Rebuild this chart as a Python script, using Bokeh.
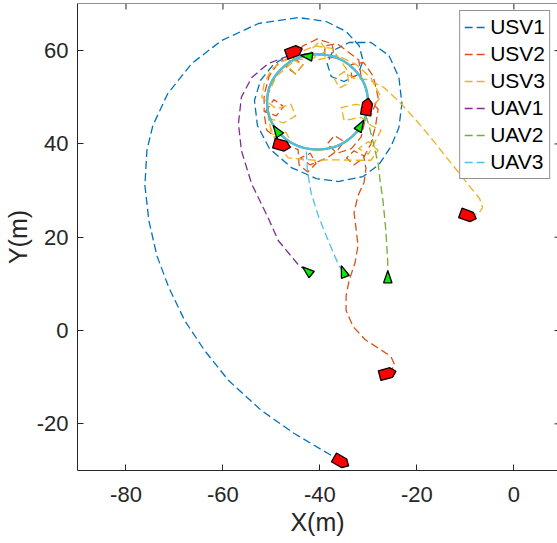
import math
from bokeh.plotting import figure
from bokeh.models import Range1d, FixedTicker, Legend, LegendItem, Span
from bokeh.embed import file_html
from bokeh.resources import INLINE

# ---------------- data ----------------
usv1_x = [-35.63, -38.30, -45.28, -52.06, -58.84, -63.78, -67.89, -71.17, -73.64, -75.28, -76.10,
          -75.69, -74.46, -71.38, -66.45, -60.28, -52.68, -44.46, -38.71, -34.60, -31.93, -31.11,
          -32.14, -35.01, -37.68, -38.50, -37.27, -33.98, -29.46, -25.77, -23.71, -23.09, -23.71,
          -25.35, -27.82, -31.11, -36.24, -40.76, -45.90, -50.42, -52.89, -53.50, -52.27, -49.60, -45.90]
usv1_y = [-28.08, -26.37, -22.08, -17.15, -10.72, -4.29, 2.14, 9.22, 16.08, 23.58, 31.08,
          38.59, 43.94, 50.80, 57.23, 62.17, 65.81, 67.10, 66.24, 64.09, 61.09, 57.88,
          54.88, 53.38, 54.45, 57.23, 60.02, 61.74, 61.74, 58.95, 54.23, 48.66, 43.52,
          39.44, 35.58, 33.01, 31.94, 32.58, 34.94, 39.01, 43.94, 49.30, 53.59, 57.02, 59.38]

usv2_x = [-25.97, -24.53, -25.35, -27.82, -30.70, -33.16, -34.60, -34.60, -33.98, -32.75, -32.14,
          -32.55, -32.96, -32.14, -30.90, -30.49,
          -31.0, -33.0, -34.5, -33.0, -31.0, -29.5,
          -28.5, -28.0, -30.0, -31.5, -29.5, -28.0, -29.0,
          -31.0, -33.5, -33.5, -31.5, -32.0, -34.5,
          -36.5, -39.0, -39.0, -37.0, -37.5, -40.5, -43.5,
          -45.5, -47.0, -45.0, -43.5, -45.5, -48.5, -50.5,
          -51.5, -51.5, -49.0, -47.5, -49.5, -51.5, -51.0,
          -47.5, -44.5, -44.3, -42.5, -40.8, -42.0, -44.0, -42.0, -38.5,
          -36.5, -35.0, -37.0, -38.5, -36.5, -33.5,
          -31.5, -30.8, -30.3]
usv2_y = [-9.22, -7.50, -5.57, -3.86, -1.93, 0.86, 4.29, 7.50, 10.72, 14.58, 18.22,
          21.86, 25.29, 28.94, 31.73, 34.73,
          37.5, 38.5, 37.0, 35.5, 37.0, 40.0,
          44.0, 47.5, 49.5, 47.5, 46.0, 50.0, 54.5,
          57.5, 57.0, 54.5, 54.5, 58.0, 60.0,
          61.5, 61.0, 58.5, 58.5, 61.5, 62.5, 61.0,
          59.0, 56.5, 55.0, 57.0, 58.5, 57.5, 54.5,
          50.5, 47.0, 46.0, 48.0, 49.5, 46.5, 43.0,
          40.0, 38.8, 35.5, 34.0, 35.8, 38.0, 37.0, 35.5, 37.0,
          38.5, 40.5, 41.8, 40.0, 38.0, 39.0,
          41.5, 44.5, 47.5]

usv3_x = [-9.33, -7.27, -6.45, -7.07, -8.92, -11.38, -14.05, -17.14, -20.63, -23.92, -26.79,
          -30.08, -32.96,
          -35.0, -37.0, -36.0, -34.0, -34.5, -37.5, -41.0,
          -44.5, -47.0, -45.0, -43.5, -46.5, -50.0,
          -51.5, -52.0,
          -49.0, -46.0, -45.0, -47.5, -50.5,
          -50.0, -47.0, -46.0, -48.5, -46.5,
          -41.0, -37.0,
          -33.0, -29.5, -28.0, -30.0, -32.0, -30.0,
          -27.4, -29.5, -31.5, -35.0, -35.6, -32.5, -29.5,
          -27.4, -29.5, -32.5, -36.5, -40.5,
          -42.0, -40.0, -38.5, -41.0, -45.0,
          -49.0, -51.0, -50.5, -49.5, -47.8]
usv3_y = [24.65, 25.08, 26.37, 28.30, 30.65, 33.87, 37.30, 41.37, 45.66, 49.30, 52.09,
          53.80, 54.02,
          55.5, 54.0, 52.0, 53.0, 56.0, 60.5, 61.0,
          59.5, 57.0, 55.0, 57.0, 58.5, 56.0,
          53.0, 50.0,
          47.5, 48.5, 46.0, 44.5, 45.5,
          42.0, 42.5, 40.5, 39.5, 37.0,
          36.5, 36.6,
          36.5, 36.5, 38.6, 40.5, 39.0, 37.8,
          42.9, 44.0, 45.7, 45.0, 47.8, 48.5, 47.8,
          50.0, 54.2, 57.0, 59.0, 58.0,
          60.0, 62.0, 60.0, 58.5, 58.0,
          54.5, 50.0, 44.5, 41.5, 39.7]

uav1_x = [-42.47, -44.3, -48.6, -50.7, -54.1, -56.2, -56.8, -56.2, -54.1, -50.7, -48.0, -45.5, -43.0]
uav1_y = [12.71, 13.9, 19.3, 24.2, 31.5, 38.6, 44.4, 50.0, 54.2, 57.2, 58.3, 59.2, 59.3]

uav2_x = [-26.03, -26.0, -26.4, -27.0, -27.6, -28.0, -29.1, -29.9, -30.5]
uav2_y = [11.30, 14.6, 21.4, 27.9, 32.2, 35.8, 40.7, 44.0, 46.0]

uav3_x = [-35.07, -36.1, -38.3, -40.2, -41.8, -42.6, -42.8]
uav3_y = [12.50, 13.9, 19.3, 24.2, 29.4, 34.3, 38.6]

# converged UAV orbit: centre and diameters
orbit_x = [-40.5]
orbit_y = [49.0]
orbit_w = [20.8]
orbit_h = [20.4]

# USV (boat) positions and headings (deg)
boat_x = [-45.3, -47.8, -30.3, -9.4, -26.0, -35.6]
boat_y = [59.8, 39.7, 48.0, 24.6, -9.2, -28.1]
boat_hdg = [20, -15, 80, -20, 15, -30]

# UAV (triangle) positions and headings (deg)
tri_x = [-42.6, -48.8, -31.7, -42.5, -35.1, -26.0]
tri_y = [58.8, 42.7, 43.8, 12.7, 12.5, 11.3]
tri_hdg = [172, 125, 60, 140, 110, 90]

names = ["USV1", "USV2", "USV3", "UAV1", "UAV2", "UAV3"]
colors = ["#0072BD", "#D95319", "#EDB120", "#7E2F8E", "#77AC30", "#4DBEEE"]
x_ticks = [-80, -60, -40, -20, 0]
y_ticks = [-20, 0, 20, 40, 60]

# ---------------- figure ----------------
W, H = 557, 543
ML, MB, MT = 75, 73, 3
X0, X1 = -90, 9.0
Y0, Y1 = -30, 70.1
p = figure(width=W, height=H, output_backend="svg", toolbar_location=None,
           x_range=Range1d(X0, X1), y_range=Range1d(Y0, Y1),
           min_border_left=ML, min_border_right=0, min_border_top=MT, min_border_bottom=MB,
           background_fill_color="white", border_fill_color="white")
p.xgrid.visible = False
p.ygrid.visible = False
p.outline_line_color = None

FONT = "Liberation Sans"
for ax, ticks, lab in ((p.xaxis[0], x_ticks, "X(m)"), (p.yaxis[0], y_ticks, "Y(m)")):
    ax.ticker = FixedTicker(ticks=ticks)
    ax.major_label_overrides = {t: str(t) for t in ticks}
    ax.axis_label = lab
    ax.axis_label_text_font = FONT
    ax.axis_label_text_font_size = "25px"
    ax.axis_label_text_font_style = "normal"
    ax.axis_label_text_color = "#262626"
    ax.major_label_text_font = FONT
    ax.major_label_text_font_size = "22px"
    ax.major_label_text_color = "#262626"
    ax.major_tick_in = 6
    ax.major_tick_out = 0
    ax.minor_tick_line_color = None
    ax.axis_line_color = "#262626"
    ax.major_tick_line_color = "#262626"
p.xaxis[0].major_label_standoff = 16
p.xaxis[0].axis_label_standoff = 3
p.yaxis[0].major_label_standoff = 9
p.yaxis[0].axis_label_standoff = 2

fw = W - ML
fh = H - MB - MT
sx = fw / (X1 - X0)
sy = fh / (Y1 - Y0)

# top box line and box ticks (top, and the right ones that reach the window edge)
p.add_layout(Span(location=Y1, dimension="width", line_color="#262626", line_width=1))
p.segment(x0=x_ticks, y0=[Y1] * len(x_ticks), x1=x_ticks, y1=[Y1 - 6 / sy] * len(x_ticks),
          line_color="#262626", line_width=1)
p.segment(x0=[X1 - 3 / sx] * len(y_ticks), y0=y_ticks, x1=[X1] * len(y_ticks), y1=y_ticks,
          line_color="#262626", line_width=1)

# ---------------- trajectories ----------------
paths = [(usv1_x, usv1_y), (usv2_x, usv2_y), (usv3_x, usv3_y),
         (uav1_x, uav1_y), (uav2_x, uav2_y), (uav3_x, uav3_y)]
renderers = []
for (xs, ys), c in zip(paths, colors):
    r = p.line(xs, ys, line_color=c, line_width=1.3, line_dash="8 4", line_join="round")
    renderers.append(r)

p.ellipse(x=orbit_x, y=orbit_y, width=orbit_w, height=orbit_h, fill_color=None,
          line_color=colors[4], line_width=2.4)
p.ellipse(x=orbit_x, y=orbit_y, width=orbit_w, height=orbit_h, fill_color=None,
          line_color=colors[5], line_width=2.0)

# ---------------- vehicle markers (shape template in screen px) ----------------
boat_tpl = [(-8.5, -5.0), (3.5, -5.0), (8.5, 0.0), (3.5, 5.0), (-8.5, 5.0)]
tri_tpl = [(7.0, 0.0), (-5.0, -4.2), (-5.0, 4.2)]


def place(xc, yc, hdg, tpl):
    a = math.radians(hdg)
    ca, sa = math.cos(a), math.sin(a)
    xs = [xc + (dx * ca - dy * sa) / sx for dx, dy in tpl]
    ys = [yc + (dx * sa + dy * ca) / sy for dx, dy in tpl]
    return xs, ys


bxs, bys = zip(*[place(x, y, h, boat_tpl) for x, y, h in zip(boat_x, boat_y, boat_hdg)])
txs, tys = zip(*[place(x, y, h, tri_tpl) for x, y, h in zip(tri_x, tri_y, tri_hdg)])
p.patches(list(bxs), list(bys), fill_color="#FF0000", line_color="black", line_width=1.3)
p.patches(list(txs), list(tys), fill_color="#00EE00", line_color="black", line_width=1.3)

# ---------------- legend ----------------
legend = Legend(items=[LegendItem(label=n, renderers=[r]) for n, r in zip(names, renderers)],
                location="top_right", margin=7, padding=4, spacing=3,
                glyph_width=21, glyph_height=24, label_height=24, label_standoff=5,
                label_text_font=FONT, label_text_font_size="21px", label_text_color="black",
                border_line_color="#262626", border_line_width=1,
                background_fill_color="white", background_fill_alpha=1)
p.add_layout(legend)

open("out.html", "w").write(file_html(p, INLINE))
